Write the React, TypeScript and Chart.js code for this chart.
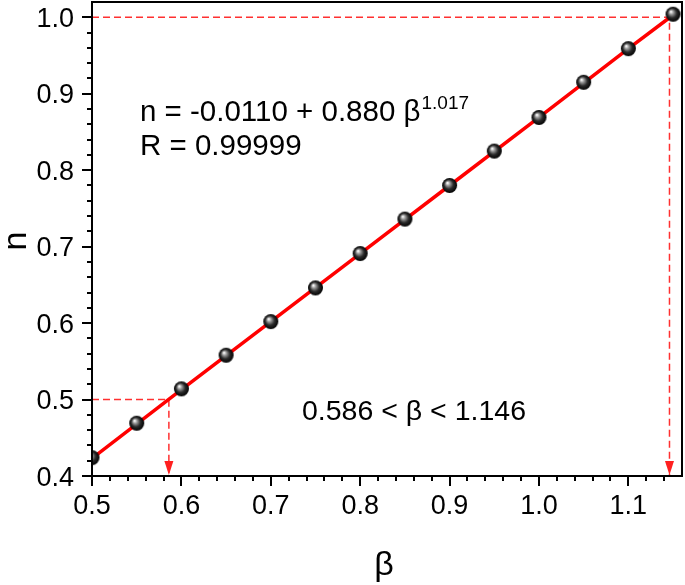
import React, { useEffect, useRef } from "react";
import { Chart, registerables } from "chart.js";

Chart.register(...registerables);

const betaValues = [0.5, 0.55, 0.6, 0.65, 0.7, 0.75, 0.8, 0.85, 0.9, 0.95, 1.0, 1.05, 1.1, 1.15];
const nValues = [0.424, 0.469, 0.514, 0.558, 0.602, 0.646, 0.691, 0.736, 0.780, 0.825, 0.869, 0.915, 0.959, 1.004];
const fitBeta = [0.5, 0.6, 0.7, 0.8, 0.9, 1.0, 1.1, 1.15];
const fitN = [0.423, 0.513, 0.602, 0.691, 0.780, 0.869, 0.959, 1.003];
const guideLow = { beta: 0.586, n: 0.5 };
const guideHigh = { beta: 1.146, n: 1.0 };
const xMajorTicks = [0.5, 0.6, 0.7, 0.8, 0.9, 1.0, 1.1];
const yMajorTicks = [0.4, 0.5, 0.6, 0.7, 0.8, 0.9, 1.0];
const xRange = [0.5, 1.16];
const yRange = [0.4, 1.02];
const equationMain = "n = -0.0110 + 0.880 β";
const equationExp = "1.017";
const rText = "R = 0.99999";
const rangeText = "0.586 < β < 1.146";
const xTitle = "β";
const yTitle = "n";

const FONT = "'Liberation Sans', Arial, sans-serif";

function makeSphere(r: number) {
  const c = document.createElement("canvas");
  const s = r * 2 + 2;
  c.width = s;
  c.height = s;
  const g = c.getContext("2d")!;
  const cx = s / 2, cy = s / 2;
  const grad = g.createRadialGradient(cx - r * 0.3, cy - r * 0.35, r * 0.05, cx, cy, r);
  grad.addColorStop(0, "#ffffff");
  grad.addColorStop(0.25, "#9a9a9a");
  grad.addColorStop(0.6, "#2a2a2a");
  grad.addColorStop(1, "#000000");
  g.fillStyle = grad;
  g.beginPath();
  g.arc(cx, cy, r, 0, Math.PI * 2);
  g.fill();
  return c;
}

export default function App() {
  const ref = useRef<HTMLCanvasElement | null>(null);
  useEffect(() => {
    const canvas = ref.current!;
    const sphere = makeSphere(7.5);

    const decor = {
      id: "decor",
      afterDraw(chart: any) {
        const ctx = chart.ctx;
        const xs = chart.scales.x;
        const ys = chart.scales.y;
        const a = chart.chartArea;
        ctx.save();
        // arrowheads
        ctx.fillStyle = "#ff2020";
        for (const g of [guideLow, guideHigh]) {
          const px = xs.getPixelForValue(g.beta);
          const py = ys.getPixelForValue(yRange[0]);
          ctx.beginPath();
          ctx.moveTo(px, py - 1);
          ctx.lineTo(px - 4.5, py - 15);
          ctx.lineTo(px + 4.5, py - 15);
          ctx.closePath();
          ctx.fill();
        }
        // ticks
        ctx.strokeStyle = "#000";
        ctx.lineWidth = 2;
        ctx.beginPath();
        for (let i = 0; i <= 33; i++) {
          const v = xRange[0] + i * 0.02;
          if (v > xRange[1] - 0.005) break;
          const px = Math.round(xs.getPixelForValue(v));
          const major = i % 5 === 0;
          ctx.moveTo(px, a.bottom);
          ctx.lineTo(px, a.bottom + (major ? 10 : 5));
        }
        for (let i = 0; i <= 31; i++) {
          const v = yRange[0] + i * 0.02;
          if (v > yRange[1] - 0.005) break;
          const py = Math.round(ys.getPixelForValue(v));
          const major = i % 5 === 0;
          ctx.moveTo(a.left, py);
          ctx.lineTo(a.left - (major ? 10 : 5), py);
        }
        ctx.stroke();
        // frame
        ctx.lineWidth = 2;
        ctx.strokeRect(a.left, a.top, a.right - a.left, a.bottom - a.top);
        // tick labels
        ctx.fillStyle = "#000";
        ctx.font = `27px ${FONT}`;
        ctx.textAlign = "center";
        ctx.textBaseline = "alphabetic";
        for (const v of xMajorTicks) {
          ctx.fillText(v.toFixed(1), xs.getPixelForValue(v), a.bottom + 38);
        }
        ctx.textAlign = "right";
        for (const v of yMajorTicks) {
          ctx.fillText(v.toFixed(1), a.left - 18, ys.getPixelForValue(v) + 9.5);
        }
        // annotation text
        ctx.textAlign = "left";
        ctx.font = `29.5px ${FONT}`;
        const tx = a.left + 48;
        ctx.fillText(equationMain, tx, a.top + 119);
        const w = ctx.measureText(equationMain).width;
        ctx.font = `19px ${FONT}`;
        ctx.fillText(equationExp, tx + w + 1, a.top + 107);
        ctx.font = `29.5px ${FONT}`;
        ctx.fillText(rText, tx, a.top + 153);
        ctx.font = `28.5px ${FONT}`;
        ctx.fillText(rangeText, a.left + 210, a.top + 418);
        // axis titles
        ctx.font = `34px ${FONT}`;
        ctx.textAlign = "center";
        ctx.fillText(xTitle, (a.left + a.right) / 2 - 3, 575);
        ctx.save();
        ctx.translate(26, (a.top + a.bottom) / 2 + 2);
        ctx.rotate(-Math.PI / 2);
        ctx.fillText(yTitle, 0, 0);
        ctx.restore();
        ctx.restore();
      },
    };

    const dash = { borderColor: "#ff3030", borderWidth: 1.5, borderDash: [7, 4], pointRadius: 0, showLine: true, fill: false };

    const chart = new Chart(canvas, {
      type: "scatter",
      data: {
        datasets: [
          {
            ...dash,
            data: [
              { x: xRange[0], y: guideLow.n },
              { x: guideLow.beta, y: guideLow.n },
              { x: guideLow.beta, y: yRange[0] },
            ],
            order: 3,
          },
          {
            ...dash,
            data: [
              { x: xRange[0], y: guideHigh.n },
              { x: guideHigh.beta, y: guideHigh.n },
              { x: guideHigh.beta, y: yRange[0] },
            ],
            order: 3,
          },
          {
            data: fitBeta.map((b, i) => ({ x: b, y: fitN[i] })),
            showLine: true,
            borderColor: "#ff0000",
            borderWidth: 3.5,
            pointRadius: 0,
            order: 2,
          },
          {
            data: betaValues.map((b, i) => ({ x: b, y: nValues[i] })),
            showLine: false,
            pointStyle: sphere as any,
            pointRadius: 8,
            order: 1,
          },
        ],
      },
      options: {
        animation: false,
        responsive: false,
        layout: { autoPadding: false, padding: { left: 92, right: 3, top: 2, bottom: 109 } },
        plugins: { legend: { display: false }, tooltip: { enabled: false } },
        scales: {
          x: { type: "linear", display: false, min: xRange[0], max: xRange[1] },
          y: { type: "linear", display: false, min: yRange[0], max: yRange[1] },
        },
      },
      plugins: [decor],
    });
    return () => chart.destroy();
  }, []);
  return (
    <div style={{ position: "fixed", left: 0, top: 0, width: 685, height: 585, background: "#fff" }}>
      <canvas ref={ref} width={685} height={585} />
    </div>
  );
}
